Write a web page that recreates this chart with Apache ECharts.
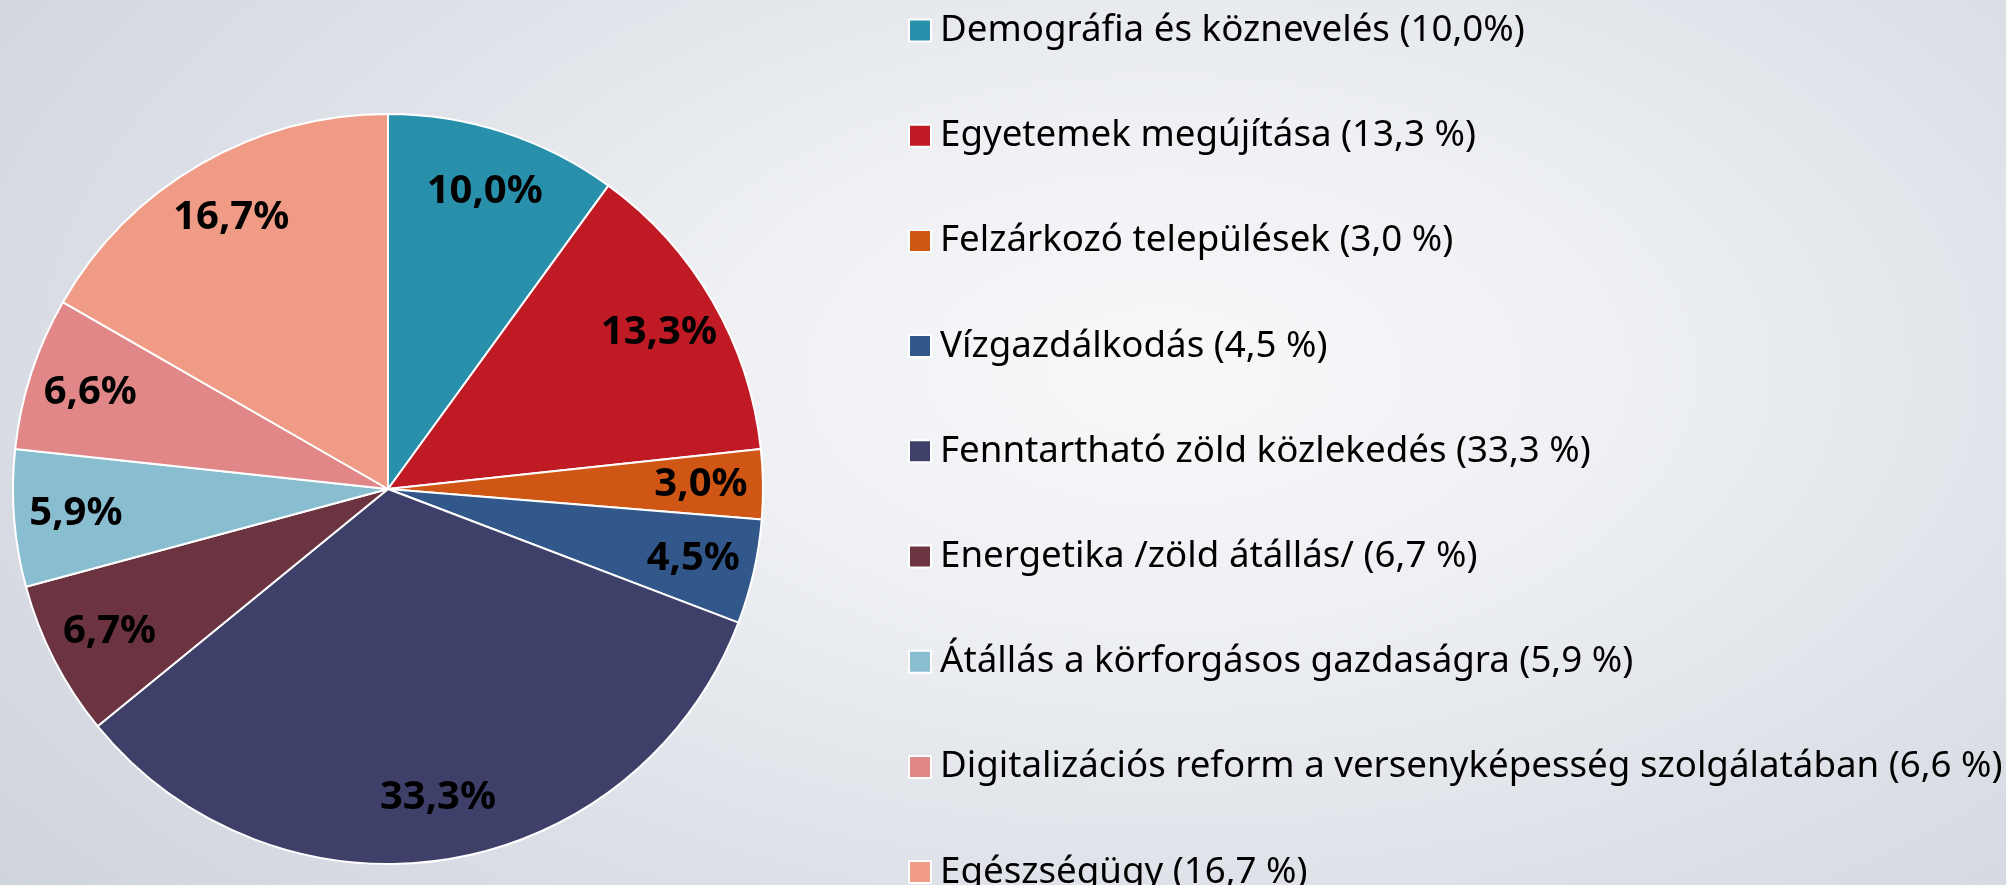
<!DOCTYPE html>
<html>
<head>
<meta charset="utf-8">
<script src="https://cdn.jsdelivr.net/npm/echarts@6/dist/echarts.min.js"></script>
<style>
  html, body { margin: 0; padding: 0; }
  body {
    width: 2006px; height: 885px; overflow: hidden;
    background: radial-gradient(ellipse 75% 95% at 58% 42%, #f8f8fa 0%, #eef0f3 30%, #dde0e7 65%, #cfd3dc 100%);
  }
  #chart { width: 2006px; height: 885px; }
</style>
</head>
<body>
<div id="chart"></div>
<script>
const categories = [
  "Demográfia és köznevelés",
  "Egyetemek megújítása",
  "Felzárkozó települések",
  "Vízgazdálkodás",
  "Fenntartható zöld közlekedés",
  "Energetika /zöld átállás/",
  "Átállás a körforgásos gazdaságra",
  "Digitalizációs reform a versenyképesség szolgálatában",
  "Egészségügy"
];
const shares = [10.0, 13.3, 3.0, 4.5, 33.3, 6.7, 5.9, 6.6, 16.7];
const legendLabels = [
  "Demográfia és köznevelés (10,0%)",
  "Egyetemek megújítása (13,3 %)",
  "Felzárkozó települések (3,0 %)",
  "Vízgazdálkodás (4,5 %)",
  "Fenntartható zöld közlekedés (33,3 %)",
  "Energetika /zöld átállás/ (6,7 %)",
  "Átállás a körforgásos gazdaságra (5,9 %)",
  "Digitalizációs reform a versenyképesség szolgálatában (6,6 %)",
  "Egészségügy (16,7 %)"
];
const colors = ["#2990ac", "#c01a24", "#d05616", "#32578a", "#3e4069", "#6c3440", "#89bed1", "#e28788", "#f09b85"];

const fmt = v => v.toFixed(1).replace(".", ",") + "%";
const pieData = categories.map((name, i) => ({ name, value: shares[i] }));

const chart = echarts.init(document.getElementById("chart"));
chart.setOption({
  animation: false,
  color: colors,
  legend: {
    orient: "vertical",
    left: 908,
    top: 12,
    height: 1000,
    padding: 0,
    itemWidth: 22,
    itemHeight: 22,
    itemGap: 68.2,
    icon: "rect",
    formatter: name => legendLabels[categories.indexOf(name)],
    textStyle: { fontFamily: "Noto Sans", fontSize: 36.7, color: "#000", padding: [0, 0, 0, 4] },
    data: categories
  },
  series: [
    {
      type: "pie",
      center: [388, 489],
      radius: [0, 375],
      startAngle: 90,
      clockwise: true,
      label: { show: false },
      labelLine: { show: false },
      itemStyle: { borderColor: "#fff", borderWidth: 2 },
      data: pieData
    },
    {
      type: "pie",
      silent: true,
      legendHoverLink: false,
      center: [388, 489],
      radius: [245, 375],
      startAngle: 90,
      clockwise: true,
      itemStyle: { color: "rgba(0,0,0,0)" },
      label: {
        show: true,
        position: "inside",
        formatter: p => fmt(p.value),
        fontFamily: "Noto Sans",
        fontWeight: "bold",
        fontSize: 40,
        color: "#000"
      },
      labelLine: { show: false },
      data: pieData.map(d => ({ name: d.name + " ", value: d.value }))
    }
  ]
});
</script>
</body>
</html>
